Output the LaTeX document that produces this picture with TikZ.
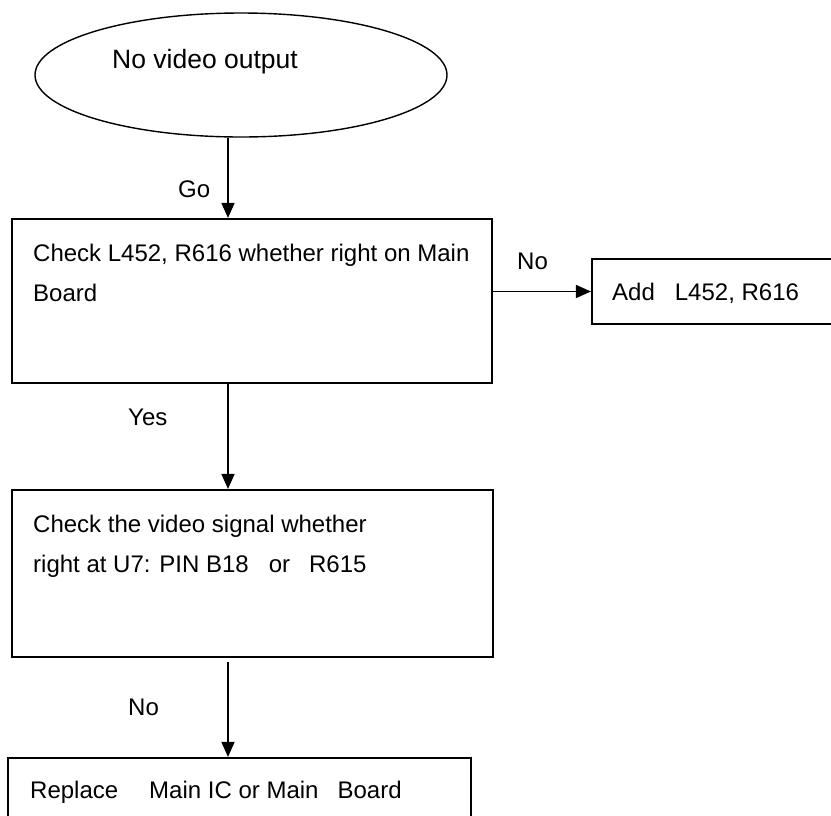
\documentclass[tikz,border=0pt]{standalone}
\usepackage{fontspec}
\setmainfont{Liberation Sans}
\usetikzlibrary{shapes.geometric,arrows.meta,positioning}
\tikzset{
  term/.style={
    shape = ellipse,
    draw,
    line width = 1.4pt,
    inner sep = 0,
    minimum width = 412,
    minimum height = 124
  },
  stepbox/.style={
    shape = rectangle,
    draw,
    line width = 2.1pt,
    inner sep = 0
  },
  txt/.style={
    anchor = base west,
    inner sep = 0,
    align = left,
    font = \fontsize{24}{40}\selectfont
  },
  flow/.style={
    line width = 1.5pt,
    -{Triangle[length=15pt,width=13pt]}
  }
}
\begin{document}
\begin{tikzpicture}[x=1pt,y=-1pt]
    \useasboundingbox (0,0) rectangle (831,815);
    \coordinate (col) at (228,0);
    % shapes
    \node[term] (start) at (241,75) {};
    \node[stepbox, minimum width=480, minimum height=164] (chk) at (252,301) {};
    \node[stepbox, minimum width=268, minimum height=65] (add) at (726,291.5) {};
    \node[stepbox, minimum width=481, minimum height=167] (sig) at (252.5,573.5) {};
    \node[stepbox, minimum width=463, minimum height=102] (repl) at (239.5,809) {};
    % texts (base = last line)
    \node[txt, font=\fontsize{26.5}{30}\selectfont] (start-t) at (112,68) {No video output};
    \node[txt] (chk-t) at (33,301) {Check L452, R616 whether right on Main\\Board};
    \node[txt] (add-t) at (612,300) {Add\hspace{20pt}L452, R616};
    \node[txt] (sig-t) at (33,572) {Check the video signal whether\\right at U7: PIN B18\hspace{20pt}or\hspace{19pt}R615};
    \node[txt] (repl-t) at (30,798) {Replace\hspace{31pt}Main IC or Main\hspace{19pt}Board};
    % labels
    \node[txt] (go) at (178,197) {Go};
    \node[txt] (no-a) at (517,269) {No};
    \node[txt] (yes) at (128,425) {Yes};
    \node[txt] (no-b) at (128,715) {No};
    % connectors
    \draw[flow] (start.south -| col) -- (chk.north -| col);
    \draw[flow] (chk.east |- add) -- (add.west);
    \draw[flow] (chk.south -| col) -- (sig.north -| col);
    \draw[flow, shorten <=4pt] (sig.south -| col) -- (repl.north -| col);
\end{tikzpicture}
\end{document}
